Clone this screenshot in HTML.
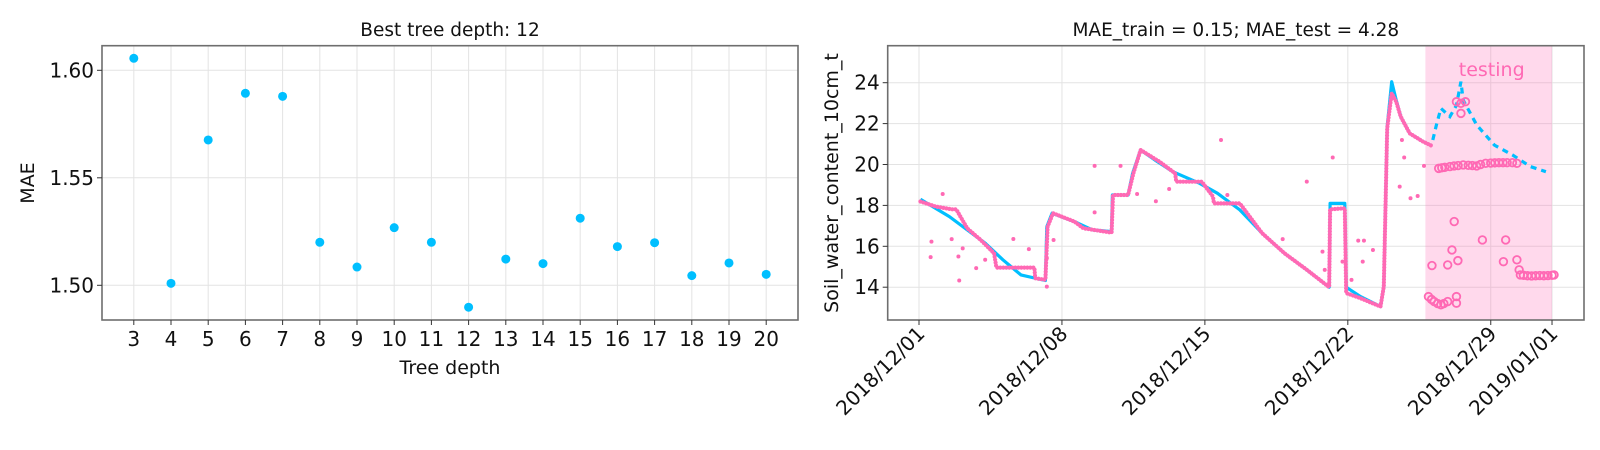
<!DOCTYPE html>
<html><head><meta charset="utf-8">
<style>
html,body{margin:0;padding:0;background:#fff;}
svg{display:block;font-family:"DejaVu Sans","Liberation Sans",sans-serif;}
</style></head>
<body>
<svg id="fig" width="1600" height="450" viewBox="0 0 1600 450" xmlns="http://www.w3.org/2000/svg">
<g id="left"></g>
<g id="right"></g>
</svg>
<script>
// ---------- Left chart data ----------
const depths = [3,4,5,6,7,8,9,10,11,12,13,14,15,16,17,18,19,20];
const maeValues = [1.6056,1.5009,1.5676,1.5893,1.5879,1.520,1.5085,1.5268,1.520,1.4898,1.5122,1.5101,1.5312,1.518,1.5198,1.5045,1.5104,1.5051];
const maeTicks = [1.50,1.55,1.60];
const maeTickLabels = ["1.50","1.55","1.60"];

// ---------- Right chart data (days since 2018/12/01) ----------
const actualTrainDays = [0.07,0.83,1.6,1.82,2.36,3.02,3.68,3.79,5.65,5.69,6.19,6.3,6.56,7.61,8.05,9.43,9.5,10.24,10.5,10.85,11.77,12.54,12.6,13.85,14.4,14.44,15.71,16.8,17.9,18.99,20.09,20.13,20.85,20.92,21.62,22.6,22.76,22.93,23.15,23.37,23.59,24.03,24.68,25.12];
const actualTrainVals = [18.19,17.94,17.81,17.81,16.88,16.31,15.66,14.96,14.96,14.44,14.36,16.96,17.62,17.21,16.88,16.67,18.51,18.51,19.57,20.71,20.14,19.57,19.16,19.16,18.43,18.1,18.1,16.64,15.66,14.85,14.0,17.81,17.86,13.71,13.46,13.05,14.03,21.77,23.48,23.07,22.34,21.52,21.12,20.91];
const predTrainDays = [0.07,1.49,2.36,3.24,4.11,4.99,6.19,6.26,6.52,7.61,8.49,9.43,9.47,10.24,10.46,10.85,11.55,12.43,13.74,14.62,15.71,16.8,17.9,18.99,20.09,20.13,20.85,20.92,21.62,22.6,22.76,22.93,23.15,23.37,23.59,24.03,24.68,25.12];
const predTrainVals = [18.3,17.45,16.8,16.15,15.34,14.6,14.33,16.96,17.62,17.21,16.8,16.72,18.51,18.51,19.57,20.71,20.22,19.65,19.08,18.59,17.78,16.64,15.66,14.85,14.0,18.1,18.1,14.0,13.54,13.05,14.03,21.85,24.05,23.15,22.34,21.52,21.12,20.91];
const predTestDays = [25.16,25.34,25.56,26.0,26.32,26.54,26.65,27.31,28.18,29.06,29.93,30.7];
const predTestVals = [21.2,21.93,22.75,22.34,22.9,24.05,23.15,21.93,20.95,20.47,19.9,19.65];
const outlierDays = [1.16,0.61,0.57,1.93,1.97,2.14,1.6,2.8,3.24,4.62,5.38,6.26,6.26,6.59,8.6,8.6,9.87,10.68,11.6,12.25,14.79,15.1,17.81,18.99,19.76,19.87,20.26,20.74,21.18,21.51,21.79,21.73,22.23,23.65,23.76,23.54,24.07,24.42,24.73];
const outlierVals = [18.56,16.23,15.47,15.5,14.33,15.9,16.35,14.93,15.34,16.36,15.86,15.42,14.03,16.31,17.66,19.93,19.93,18.56,18.2,18.8,21.2,18.51,16.35,19.16,15.74,14.85,20.34,15.25,14.36,16.28,16.28,15.25,15.82,21.2,20.34,18.92,18.35,18.46,19.93];
const testDays = [25.45,25.6,25.75,26.0,26.2,26.4,26.65,26.9,27.1,27.31,27.5,27.75,28.0,28.2,28.4,28.6,28.8,29.06,29.28,26.32,26.54,26.76,26.54,24.95,25.1,25.23,25.4,25.56,25.7,25.89,26.32,26.32,25.12,25.89,26.39,26.1,26.21,27.59,28.73,28.62,29.28,29.39,29.45,29.6,29.8,30.0,30.2,30.4,30.6,30.8,31.0,31.1];
const testVals = [19.81,19.84,19.86,19.9,19.93,19.95,19.98,19.96,19.95,19.93,20.0,20.06,20.07,20.08,20.09,20.09,20.09,20.09,20.06,23.07,22.99,23.07,22.5,13.54,13.4,13.3,13.2,13.14,13.2,13.3,13.54,13.22,15.06,15.09,15.3,15.82,17.21,16.31,16.31,15.25,15.34,14.85,14.6,14.58,14.56,14.55,14.56,14.57,14.56,14.57,14.58,14.6];
const dateTickDays = [0,7,14,21,28,31];
const dateTickLabels = ["2018/12/01","2018/12/08","2018/12/15","2018/12/22","2018/12/29","2019/01/01"];
const waterTicks = [14,16,18,20,22,24];
const testingStartDay = 24.8;
const testingEndDay = 31;

const NS = "http://www.w3.org/2000/svg";
const BLUE = "#00bfff", PINK = "#ff69b4";
function mk(parent, tag, attrs, text){
  const e = document.createElementNS(NS, tag);
  for (const k in attrs) e.setAttribute(k, attrs[k]);
  if (text !== undefined) e.textContent = text;
  parent.appendChild(e);
  return e;
}

// ---------- Left chart ----------
(function(){
  const g = document.getElementById("left");
  const L=102,R=798,T=45.7,B=320;
  const xL = k => 133.8 + (k-3)*37.2;
  const yL = v => 70.3 + (1.60 - v)*2150;
  depths.forEach(d=>{
    const l = mk(g,"line",{x1:xL(d),x2:xL(d),y1:T,y2:B,stroke:"#e3e3e3","stroke-width":1});
    
    
  });
  maeTicks.forEach(v=>{
    const l = mk(g,"line",{x1:L,x2:R,y1:yL(v),y2:yL(v),stroke:"#e3e3e3","stroke-width":1});
    
    
  });
  depths.forEach((d,i)=>{
    const c = mk(g,"ellipse",{cx:xL(d),cy:yL(maeValues[i]),rx:4.5,ry:4.5,fill:BLUE});
    
    
  });
  const box = mk(g,"rect",{x:L,y:T,width:R-L,height:B-T,fill:"none",stroke:"#6e6e6e","stroke-width":1.6});
  
  
  depths.forEach(d=>{
    mk(g,"line",{x1:xL(d),x2:xL(d),y1:B,y2:B+5,stroke:"#333"});
    const t = mk(g,"text",{x:xL(d),y:B+26,"text-anchor":"middle","font-size":20,fill:"#111"},String(d));
    
    
  });
  maeTicks.forEach((v,i)=>{
    mk(g,"line",{x1:L-5,x2:L,y1:yL(v),y2:yL(v),stroke:"#333"});
    const t = mk(g,"text",{x:L-8,y:yL(v)+7,"text-anchor":"end","font-size":20,fill:"#111"},maeTickLabels[i]);
    
    
  });
  const title = mk(g,"text",{x:450,y:36,"text-anchor":"middle","font-size":18.5,fill:"#111"},"Best tree depth: 12");
  
  
  const xt = mk(g,"text",{x:450,y:374,"text-anchor":"middle","font-size":19,fill:"#111"},"Tree depth");
  
  
  const yt = mk(g,"text",{x:0,y:0,"text-anchor":"middle","font-size":19,fill:"#111",transform:"translate(34,183) rotate(-90)"},"MAE");
  
  
})();

// ---------- Right chart ----------
(function(){
  const g = document.getElementById("right");
  const L=887.7,R=1584,T=45.7,B=320;
  const xR = d => 919 + d*20.42;
  const yR = v => 82.7 + (24 - v)*20.45;
  dateTickDays.forEach(d=>{
    const l = mk(g,"line",{x1:xR(d),x2:xR(d),y1:T,y2:B,stroke:"#e3e3e3","stroke-width":1});
    
    
  });
  waterTicks.forEach(v=>{
    const l = mk(g,"line",{x1:L,x2:R,y1:yR(v),y2:yR(v),stroke:"#e3e3e3","stroke-width":1});
    
    
  });
  const shade = mk(g,"rect",{x:xR(testingStartDay),y:T,width:xR(testingEndDay)-xR(testingStartDay),height:B-T,fill:PINK,"fill-opacity":0.25});
  
  
  const tl = mk(g,"text",{x:(xR(testingStartDay)+xR(testingEndDay))/2+3,y:76,"text-anchor":"middle","font-size":19,fill:PINK},"testing");
  
  

  const pts = (ds,vs)=>ds.map((d,i)=>xR(d).toFixed(1)+","+yR(vs[i]).toFixed(1)).join(" ");
  const pl = mk(g,"polyline",{points:pts(predTrainDays,predTrainVals),fill:"none",stroke:BLUE,"stroke-width":3.2,"stroke-linejoin":"round"});
  
  
  const pt = mk(g,"polyline",{points:pts(predTestDays,predTestVals),fill:"none",stroke:BLUE,"stroke-width":3.2,"stroke-dasharray":"6 5"});
  
  
  const at = mk(g,"polyline",{points:pts(actualTrainDays,actualTrainVals),fill:"none",stroke:PINK,"stroke-width":4.2,"stroke-linecap":"round","stroke-dasharray":"0 3"});
  
  
  outlierDays.forEach((d,i)=>{
    const c = mk(g,"circle",{cx:xR(d),cy:yR(outlierVals[i]),r:2,fill:PINK});
    
    
  });
  testDays.forEach((d,i)=>{
    const c = mk(g,"circle",{cx:xR(d),cy:yR(testVals[i]),r:3.8,fill:"none",stroke:PINK,"stroke-width":1.8});
    
    
  });
  const box = mk(g,"rect",{x:L,y:T,width:R-L,height:B-T,fill:"none",stroke:"#6e6e6e","stroke-width":1.6});
  
  
  waterTicks.forEach(v=>{
    mk(g,"line",{x1:L-5,x2:L,y1:yR(v),y2:yR(v),stroke:"#333"});
    const t = mk(g,"text",{x:L-8,y:yR(v)+7,"text-anchor":"end","font-size":20,fill:"#111"},String(v));
    
    
  });
  dateTickDays.forEach((d,i)=>{
    mk(g,"line",{x1:xR(d),x2:xR(d),y1:B,y2:B+5,stroke:"#333"});
    const x = xR(d)+7, y = B+15;
    const t = mk(g,"text",{x:x,y:y,"text-anchor":"end","font-size":20,fill:"#111",transform:"rotate(-45 "+x+" "+y+")"},dateTickLabels[i]);
    
    
  });
  const title = mk(g,"text",{x:(L+R)/2,y:36,"text-anchor":"middle","font-size":18.5,fill:"#111"},"MAE_train = 0.15; MAE_test = 4.28");
  
  
  const yt = mk(g,"text",{x:0,y:0,"text-anchor":"middle","font-size":19,fill:"#111",transform:"translate(838,183) rotate(-90)"},"Soil_water_content_10cm_t");
  
  
})();
</script>
</body></html>
